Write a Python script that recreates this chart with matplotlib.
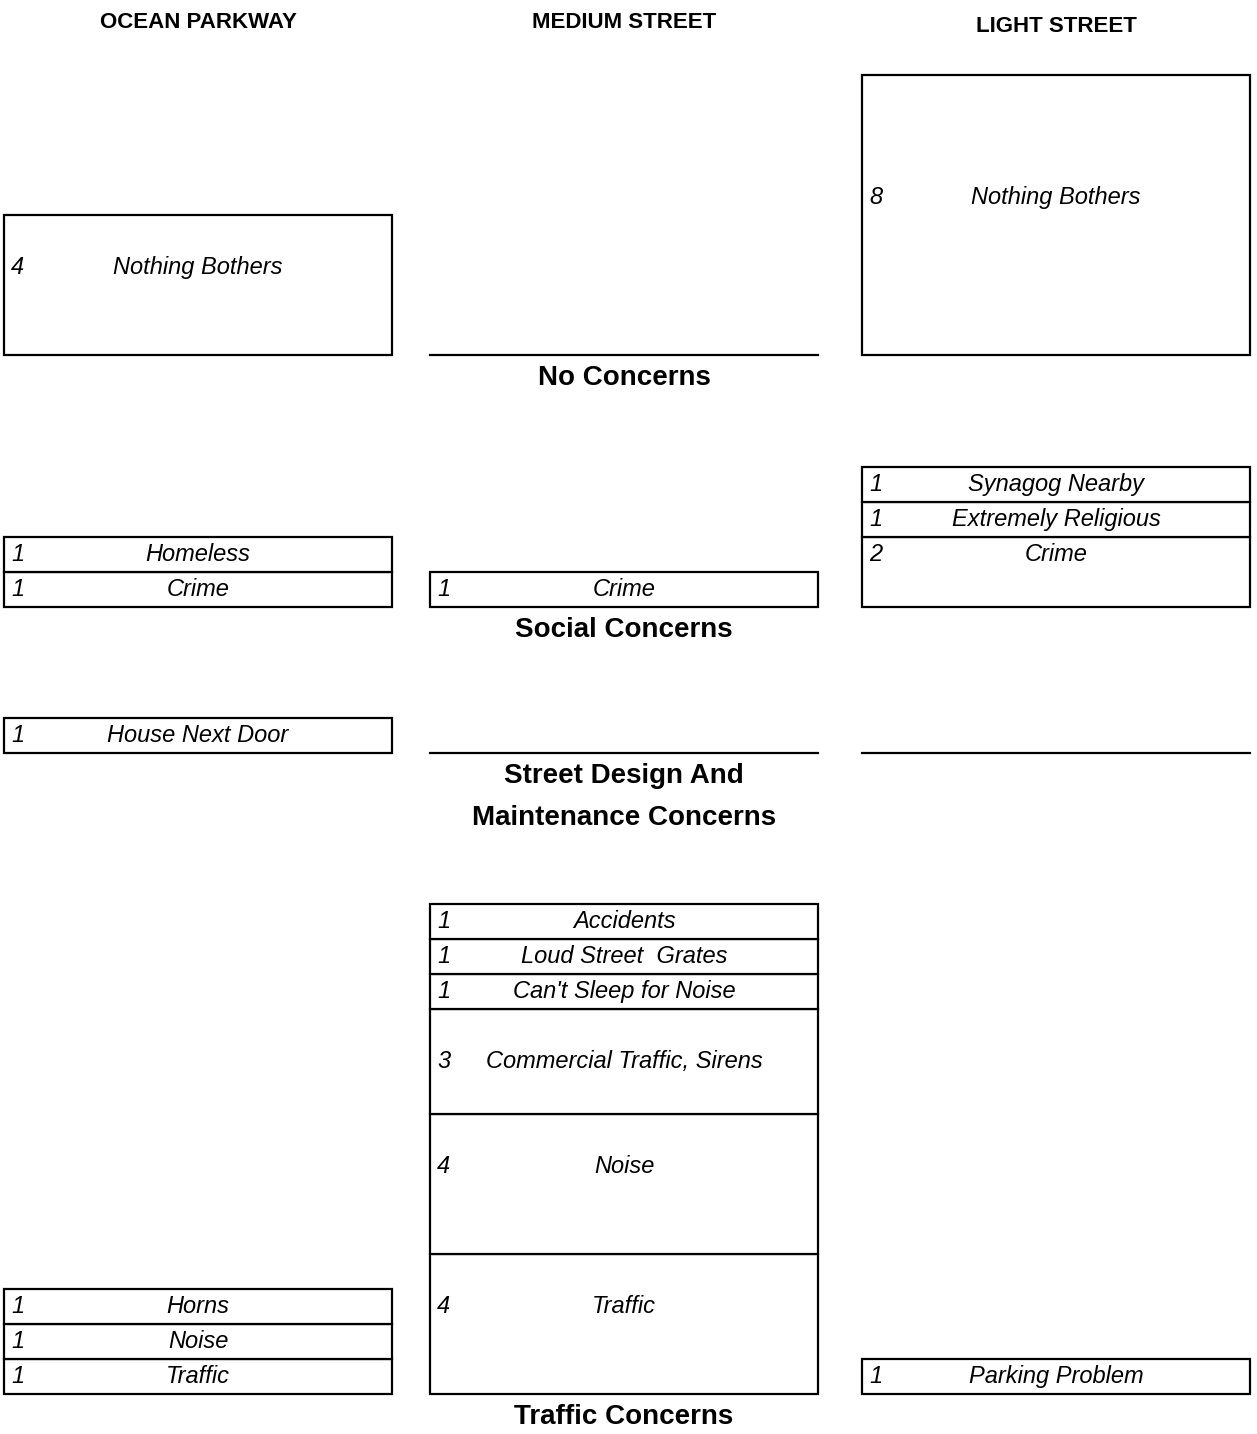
import math
import matplotlib
matplotlib.use('Agg')
import matplotlib.pyplot as plt

# coloane (străzi)
columns = ['OCEAN PARKWAY', 'MEDIUM STREET', 'LIGHT STREET']

# categorii de probleme
categories = ['No Concerns', 'Social Concerns',
              'Street Design And\nMaintenance Concerns', 'Traffic Concerns']

# răspunsuri pe categorii, de jos în sus: (eticheta, numar)
ocean_no = [('Nothing Bothers', 4)]
ocean_social = [('Crime', 1), ('Homeless', 1)]
ocean_street = [('House Next Door', 1)]
ocean_traffic = [('Traffic', 1), ('Noise', 1), ('Horns', 1)]

medium_no = []
medium_social = [('Crime', 1)]
medium_street = []
medium_traffic = [('Traffic', 4), ('Noise', 4), ('Commercial Traffic, Sirens', 3),
                  ("Can't Sleep for Noise", 1), ('Loud Street  Grates', 1),
                  ('Accidents', 1)]

light_no = [('Nothing Bothers', 8)]
light_social = [('Crime', 2), ('Extremely Religious', 1), ('Synagog Nearby', 1)]
light_street = []
light_traffic = [('Parking Problem', 1)]

data = [
    [ocean_no, ocean_social, ocean_street, ocean_traffic],
    [medium_no, medium_social, medium_street, medium_traffic],
    [light_no, light_social, light_street, light_traffic],
]

# aranjare (pixeli)
col_centers = [198, 624, 1056]
col_width = 388
baselines = [355, 607, 753, 1394]
unit = 35
header_y = [22, 22, 26]

fam = ['Liberation Sans', 'DejaVu Sans']

fig = plt.figure(figsize=(12.57, 14.34), dpi=100)
ax = fig.add_axes([0, 0, 1, 1])
ax.set_xlim(0, 1257)
ax.set_ylim(1434, 0)
ax.axis('off')

for ci, col in enumerate(columns):
    cx = col_centers[ci]
    left = cx - col_width / 2
    ax.text(cx, header_y[ci], col, ha='center', va='center', fontsize=16,
            fontweight='bold', family=fam)
    for si, items in enumerate(data[ci]):
        base = baselines[si]
        if not items:
            ax.plot([left, left + col_width], [base, base], color='black', lw=1.6)
            continue
        bottom = base
        for label, n in items:
            ax.bar(cx, -n * unit, bottom=bottom, width=col_width,
                   facecolor='white', edgecolor='black', linewidth=1.6)
            top = bottom - n * unit
            ty = top + (math.ceil(n / 2) - 0.5) * unit
            ax.text(left + 7, ty, str(n), ha='left', va='center', fontsize=17,
                    style='italic', family=fam)
            ax.text(cx, ty, label, ha='center', va='center', fontsize=17,
                    style='italic', family=fam)
            bottom = top

# etichetele categoriilor sub coloana din mijloc
for si, cat in enumerate(categories):
    ax.text(col_centers[1], baselines[si] + 10, cat, ha='center', va='top',
            fontsize=20, fontweight='bold', family=fam, linespacing=1.8)

fig.savefig('out.png', dpi=100)
